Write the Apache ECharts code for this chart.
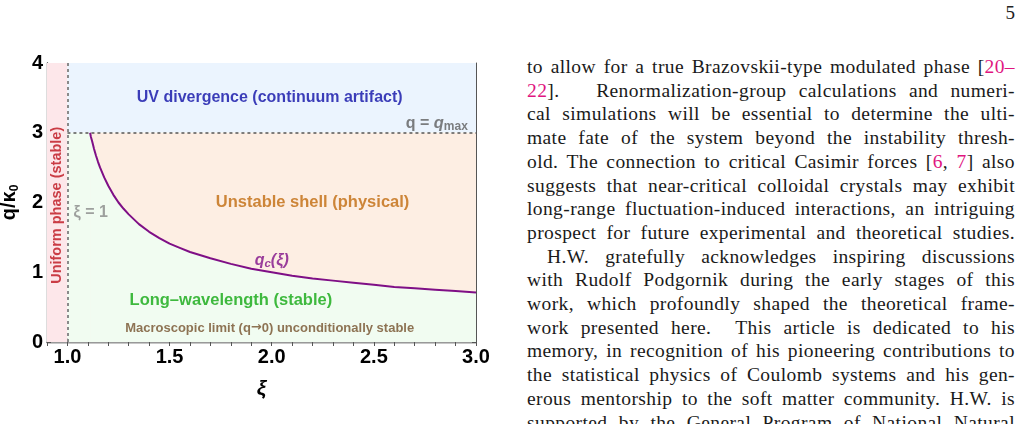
<!DOCTYPE html>
<html lang="en">
<head>
	<meta charset="UTF-8">
	<title>Document</title>
	<style>
		body{margin:0;width:1024px;height:424px;overflow:hidden;background:#fff;position:relative;}
		#chart{position:absolute;left:0;top:0;width:500px;height:424px;}
		#page{position:absolute;right:9px;top:2px;font:19px "Liberation Serif",serif;color:#222;}
		#text{position:absolute;left:527px;top:55px;width:488px;font:19.5px "Liberation Serif",serif;letter-spacing:0.4px;line-height:23.7px;color:#1a1a1a;}
		#text div{text-align:justify;text-align-last:justify;white-space:nowrap;}
		#text .ind{padding-left:20px;}
		#text span.r{color:#e0157f;}
	</style>
</head>
<body>
	<div id="chart"></div>
	<div id="page">5</div>
	<div id="text">
		<div>to allow for a true Brazovskii-type modulated phase [<span class="r">20–</span></div>
		<div><span class="r">22</span>]. &nbsp; Renormalization-group calculations and numeri-</div>
		<div>cal simulations will be essential to determine the ulti-</div>
		<div>mate fate of the system beyond the instability thresh-</div>
		<div>old. The connection to critical Casimir forces [<span class="r">6</span>, <span class="r">7</span>] also</div>
		<div>suggests that near-critical colloidal crystals may exhibit</div>
		<div>long-range fluctuation-induced interactions, an intriguing</div>
		<div>prospect for future experimental and theoretical studies.</div>
		<div class="ind">H.W. gratefully acknowledges inspiring discussions</div>
		<div>with Rudolf Podgornik during the early stages of this</div>
		<div>work, which profoundly shaped the theoretical frame-</div>
		<div>work presented here. &nbsp;This article is dedicated to his</div>
		<div>memory, in recognition of his pioneering contributions to</div>
		<div>the statistical physics of Coulomb systems and his gen-</div>
		<div>erous mentorship to the soft matter community. H.W. is</div>
		<div>supported by the General Program of National Natural</div>
	</div>
</body>
</html>
<script src="https://cdn.jsdelivr.net/npm/echarts@6/dist/echarts.min.js"></script>
<script>
	// critical wavenumber curve q_c(xi)
	var xiCurve = [1.111, 1.115, 1.12, 1.125, 1.13, 1.14, 1.15, 1.16, 1.18, 1.2, 1.225, 1.25, 1.275, 1.3, 1.35, 1.4, 1.45, 1.5, 1.55, 1.6, 1.7, 1.8, 1.9, 2.0, 2.1, 2.2, 2.3, 2.4, 2.5, 2.6, 2.7, 2.8, 2.9, 3.0];
	var qCurve  = [3.0, 2.94, 2.89, 2.83, 2.77, 2.67, 2.58, 2.5, 2.36, 2.24, 2.11, 2.0, 1.91, 1.83, 1.69, 1.58, 1.49, 1.41, 1.35, 1.29, 1.2, 1.12, 1.05, 1.0, 0.95, 0.91, 0.88, 0.85, 0.82, 0.79, 0.77, 0.75, 0.73, 0.71];

	var xiRange = [0.9, 3.0];
	var qRange = [0, 4];
	var xiOne = 1.0;     // xi = 1 boundary
	var qMax = 3.0;      // UV cutoff

	var xTickLabels = ['1.0', '1.5', '2.0', '2.5', '3.0'];
	var yTickLabels = ['0', '1', '2', '3', '4'];

	var FONT = '"Liberation Sans", Arial, sans-serif';

	var curve = [];
	for (var i = 0; i < xiCurve.length; i++) {
		curve.push([xiCurve[i], qCurve[i]]);
	}

	function tickLabel(list) {
		return function (v) {
			for (var k = 0; k < list.length; k++) {
				if (Math.abs(parseFloat(list[k]) - v) < 1e-6) return list[k];
			}
			return '';
		};
	}

	var myChart = echarts.init(document.getElementById('chart'));

	var tickStyle = { show: true, inside: true, length: 4, lineStyle: { color: '#555', width: 1 } };

	function note(x, y, text, style) {
		return { value: [x, y], label: Object.assign({ formatter: text }, style) };
	}

	var option = {
		animation: false,
		grid: { left: 47, right: 24, top: 63, bottom: 82, containLabel: false, outerBoundsMode: 'none' },
		xAxis: [{
			type: 'value', min: xiRange[0], max: xiRange[1], interval: 0.1,
			position: 'bottom',
			axisLine: { lineStyle: { color: '#222', width: 1.3 } },
			axisTick: tickStyle,
			splitLine: { show: false },
			axisLabel: {
				formatter: tickLabel(xTickLabels), color: '#000', fontWeight: 'bold',
				fontSize: 20, fontFamily: FONT, margin: 5, showMinLabel: true, showMaxLabel: true
			},
			name: 'ξ', nameLocation: 'middle', nameGap: 37,
			nameTextStyle: { fontFamily: FONT, fontWeight: 'bold', fontStyle: 'italic', fontSize: 21, color: '#000' }
		}, {
			type: 'value', min: xiRange[0], max: xiRange[1], interval: 0.1,
			position: 'top',
			axisLine: { lineStyle: { color: '#999', width: 1 } },
			axisTick: tickStyle,
			axisLabel: { show: false },
			splitLine: { show: false }
		}],
		yAxis: [{
			type: 'value', min: qRange[0], max: qRange[1], interval: 0.2,
			position: 'left',
			axisLine: { lineStyle: { color: '#222', width: 1.3 } },
			axisTick: tickStyle,
			splitLine: { show: false },
			axisLabel: {
				formatter: tickLabel(yTickLabels), color: '#000', fontWeight: 'bold',
				fontSize: 20, fontFamily: FONT, margin: 4, showMinLabel: true, showMaxLabel: true
			},
			name: '{a|q/κ}{s|0}', nameLocation: 'middle', nameGap: 19,
			nameTextStyle: {
				rich: {
					a: { fontFamily: FONT, fontWeight: 'bold', fontSize: 20, color: '#000' },
					s: { fontFamily: FONT, fontWeight: 'bold', fontSize: 12, color: '#000', padding: [10, 0, 0, 0] }
				}
			}
		}, {
			type: 'value', min: qRange[0], max: qRange[1], interval: 0.2,
			position: 'right',
			axisLine: { lineStyle: { color: '#555', width: 1 } },
			axisTick: tickStyle,
			axisLabel: { show: false },
			splitLine: { show: false }
		}],
		series: [
			{
				// background regions
				name: 'regions', type: 'line', data: [], z: 1,
				markArea: {
					silent: true,
					data: [
						[{ coord: [xiRange[0], qRange[0]], itemStyle: { color: '#fde7ea' } }, { coord: [xiOne, qRange[1]] }],
						[{ coord: [xiOne, qMax], itemStyle: { color: '#ebf4fe' } }, { coord: [xiRange[1], qRange[1]] }],
						[{ coord: [xiOne, qRange[0]], itemStyle: { color: '#f1fcf1' } }, { coord: [xiRange[1], qMax] }]
					]
				}
			},
			{
				// unstable shell: between the curve and q_max
				name: 'shell', type: 'line', z: 2, symbol: 'none',
				data: [[xiCurve[0], qMax], [xiRange[1], qMax]],
				lineStyle: { width: 0 },
				areaStyle: { color: '#fdeee3', opacity: 1 }
			},
			{
				name: 'qc', type: 'line', z: 3, symbol: 'none', smooth: false,
				data: curve,
				lineStyle: { color: '#7f0f86', width: 2 },
				areaStyle: { color: '#f1fcf1', opacity: 1 }
			},
			{
				name: 'guides', type: 'line', data: [], z: 4,
				markLine: {
					silent: true, symbol: 'none', label: { show: false },
					data: [
						[{ coord: [xiOne, qRange[0]], lineStyle: { color: '#8a8a8a', width: 2, type: [3, 3] } }, { coord: [xiOne, qRange[1]] }],
						[{ coord: [xiOne, qMax], lineStyle: { color: '#555', width: 1.6, type: [3, 3] } }, { coord: [xiRange[1], qMax] }]
					]
				}
			},
			{
				name: 'notes', type: 'scatter', z: 5, symbolSize: 0, silent: true,
				label: { show: true, position: 'inside', fontFamily: FONT, fontWeight: 'bold' },
				data: [
					note(1.99, 3.5, 'UV divergence (continuum artifact)', { color: '#0e0ea6', fontSize: 16 }),
					note(2.96, 3.13, '{a|q = }{b|q}{c|max}', { position: 'left', distance: 0, rich: {
						a: { color: '#5e5e5e', fontSize: 16, fontWeight: 'bold', fontFamily: FONT },
						b: { color: '#5e5e5e', fontSize: 16.5, fontWeight: 'bold', fontStyle: 'italic', fontFamily: FONT },
						c: { color: '#5e5e5e', fontSize: 12, fontWeight: 'bold', fontFamily: FONT, padding: [6, 0, 0, 0] }
					} }),
					note(2.2, 2.0, 'Unstable shell (physical)', { color: '#c06a0c', fontSize: 16.5 }),
					note(2.0, 1.17, '{b|q}{c|c}{b|(ξ)}', { rich: {
						b: { color: '#800f88', fontSize: 16, fontWeight: 'bold', fontStyle: 'italic', fontFamily: FONT },
						c: { color: '#800f88', fontSize: 11.5, fontWeight: 'bold', fontStyle: 'italic', fontFamily: FONT, padding: [6, 0, 0, 0] }
					} }),
					note(1.8, 0.6, 'Long–wavelength (stable)', { color: '#12a812', fontSize: 16.5 }),
					note(1.99, 0.2, '{t|Macroscopic limit (q}{ar|→}{t|0) unconditionally stable}', { rich: {
						t: { color: '#74502c', fontSize: 13, fontWeight: 'bold', fontFamily: FONT },
						ar: { color: '#74502c', fontSize: 13, fontWeight: 'bold', fontFamily: '"DejaVu Sans", sans-serif' }
					} }),
					note(1.03, 1.86, 'ξ = 1', { position: 'right', distance: 0, color: '#888', fontSize: 16 }),
					note(0.95, 1.96, 'Uniform phase (stable)', { rotate: 90, color: '#bd121b', fontSize: 14.5 })
				]
			}
		]
	};
	myChart.setOption(option);
</script>
